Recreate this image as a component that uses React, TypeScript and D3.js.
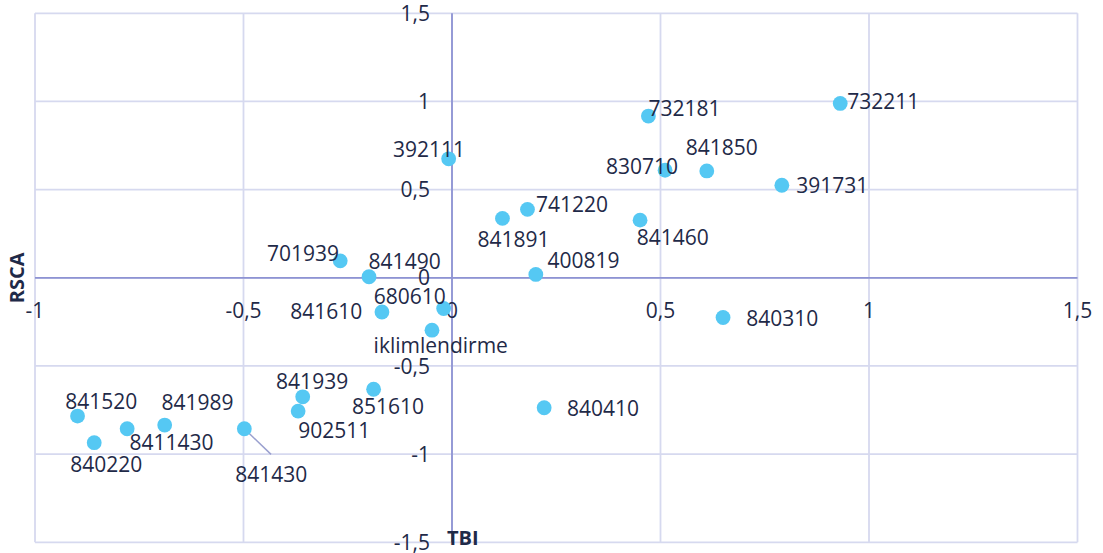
import React from "react";
import * as d3 from "d3";

const labels = [
  "732211", "732181", "392111", "830710", "841850", "391731", "741220", "841891",
  "841460", "701939", "841490", "400819", "680610", "841610", "iklimlendirme", "840310",
  "841939", "851610", "902511", "840410", "841520", "841989", "8411430", "841430", "840220",
];
const tbi = [
  0.931, 0.471, -0.008, 0.511, 0.611, 0.791, 0.181, 0.121,
  0.451, -0.268, -0.199, 0.201, -0.02, -0.168, -0.048, 0.65,
  -0.358, -0.188, -0.369, 0.221, -0.898, -0.689, -0.779, -0.498, -0.858,
];
const rsca = [
  0.989, 0.917, 0.675, 0.61, 0.606, 0.525, 0.388, 0.337,
  0.327, 0.096, 0.006, 0.019, -0.174, -0.194, -0.297, -0.225,
  -0.675, -0.632, -0.756, -0.737, -0.784, -0.835, -0.856, -0.856, -0.935,
];
const xTicks = [-1, -0.5, 0, 0.5, 1, 1.5];
const yTicks = [-1.5, -1, -0.5, 0, 0.5, 1, 1.5];

// label placement (left edge offset, baseline offset) relative to the point, in px
const labelOffsets: [number, number][] = [
  [7, 5.7], [0, -0.3], [-55.6, -2], [-59, 4], [-21, -15.7], [14.3, 7.7], [8.4, 3], [-25, 28.4],
  [-3.3, 25], [-73.3, 0], [-0.4, -7.4], [11.6, -6.6], [-70, -4.3], [-91.7, 6.6], [-58.4, 23.3], [23.2, 8.7],
  [-26.6, -7.4], [-21.6, 24.7], [0, 26.7], [22.8, 8], [-12.3, -7], [-3.3, -15], [2.3, 21.3], [-9, 53], [-24, 29],
];
const leaderIndex = 23; // 841430 has a leader line

const W = 1103;
const H = 553;
const x = d3.scaleLinear().domain([-1, 1.5]).range([35, 1077.5]);
const y = d3.scaleLinear().domain([-1.5, 1.5]).range([542.3, 13.3]);
const fmt = (v: number) => String(v).replace(".", ",");

const GRID = "#d6d9ef";
const AXIS = "#8e93d3";
const TEXT = "#1f2a48";
const DOT = "#55c8f3";
const FONT = "'Open Sans', sans-serif";

export default function App() {
  const x0 = x(0);
  const y0 = y(0);
  return (
    <svg
      width={W}
      height={H}
      style={{ position: "absolute", left: 0, top: 0, background: "#fff" }}
      fontFamily={FONT}
    >
      {/* grid */}
      {xTicks.map((t) => (
        <line key={"gx" + t} x1={x(t)} x2={x(t)} y1={y(1.5)} y2={y(-1.5)} stroke={GRID} strokeWidth={1.8} />
      ))}
      {yTicks.map((t) => (
        <line key={"gy" + t} x1={x(-1)} x2={x(1.5)} y1={y(t)} y2={y(t)} stroke={GRID} strokeWidth={1.8} />
      ))}
      {/* axes */}
      <line x1={x0} x2={x0} y1={y(1.5)} y2={y(-1.5)} stroke={AXIS} strokeWidth={1.8} />
      <line x1={x(-1)} x2={x(1.5)} y1={y0} y2={y0} stroke={AXIS} strokeWidth={1.8} />
      {/* tick labels */}
      {yTicks.map((t) => (
        <text key={"ty" + t} x={x0 - 22} y={y(t)} dy="0.36em" textAnchor="end" fontSize={21} fill={TEXT}>
          {fmt(t)}
        </text>
      ))}
      {xTicks.map((t) => (
        <text key={"tx" + t} x={x(t)} y={y0 + 40.5} textAnchor="middle" fontSize={21} fill={TEXT}>
          {fmt(t)}
        </text>
      ))}
      {/* axis titles */}
      <text
        transform={`translate(24, ${y0}) rotate(-90)`}
        textAnchor="middle"
        fontSize={20}
        fontWeight="bold"
        fill={TEXT}
      >
        RSCA
      </text>
      <text x={447} y={545} fontSize={20} fontWeight="bold" fill={TEXT}>
        TBI
      </text>
      {/* leader line */}
      <line
        x1={x(tbi[leaderIndex])}
        y1={y(rsca[leaderIndex])}
        x2={x(tbi[leaderIndex]) + 26.7}
        y2={y(rsca[leaderIndex]) + 25.6}
        stroke="#9aa0cf"
        strokeWidth={1.5}
      />
      {/* points */}
      {labels.map((l, i) => (
        <circle key={"p" + l} cx={x(tbi[i])} cy={y(rsca[i])} r={7.4} fill={DOT} />
      ))}
      {/* labels */}
      {labels.map((l, i) => (
        <text
          key={"l" + l}
          x={x(tbi[i]) + labelOffsets[i][0]}
          y={y(rsca[i]) + labelOffsets[i][1]}
          fontSize={21}
          fill={TEXT}
        >
          {l}
        </text>
      ))}
    </svg>
  );
}
